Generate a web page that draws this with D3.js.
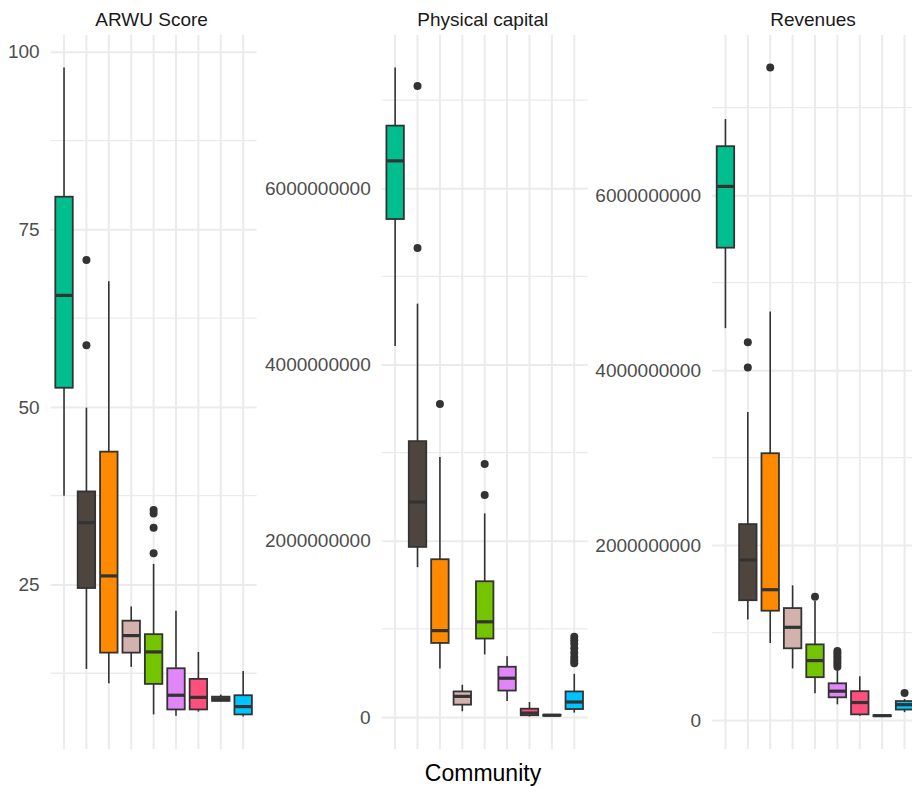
<!DOCTYPE html>
<html>
<head>
<meta charset="utf-8">
<script src="https://cdn.jsdelivr.net/npm/d3@7"></script>
<style>
  html, body { margin: 0; padding: 0; background: #ffffff; }
  svg { display: block; font-family: "Liberation Sans", Arial, sans-serif; }
</style>
</head>
<body>
<svg id="chart" width="912" height="787"></svg>
<script>
// ---------- data ----------
const communities = ["1", "2", "3", "4", "5", "6", "7", "8", "9"];
const fillColors = ["#00BE8E", "#4E463E", "#FF8A00", "#D3B1AD", "#75C400", "#E086F8", "#FF4F7D", "#A8A8A8", "#00C4FF"];
const panelTitles = ["ARWU Score", "Physical capital", "Revenues"];

// [lower whisker, Q1, median, Q3, upper whisker]
const arwuBox = [
  [37.5, 52.7, 65.7, 79.6, 97.8],
  [13.1, 24.5, 33.7, 38.1, 49.9],
  [11.1, 15.4, 26.2, 43.7, 67.7],
  [13.4, 15.4, 17.8, 19.9, 21.9],
  [6.7, 11.0, 15.5, 18.0, 27.9],
  [6.5, 7.4, 9.4, 13.2, 21.3],
  [7.1, 7.4, 9.1, 11.7, 15.5],
  [8.5, 8.6, 8.9, 9.2, 9.5],
  [6.4, 6.7, 7.8, 9.4, 12.8]
];
const arwuOut = [[], [70.7, 58.7], [], [], [35.5, 35.0, 33.0, 29.4], [], [], [], []];

const capitalBox = [
  [4.21e9, 5.65e9, 6.31e9, 6.71e9, 7.37e9],
  [1.70e9, 1.93e9, 2.44e9, 3.13e9, 4.69e9],
  [0.55e9, 0.84e9, 0.98e9, 1.79e9, 2.95e9],
  [0.065e9, 0.14e9, 0.234e9, 0.29e9, 0.366e9],
  [0.71e9, 0.89e9, 1.08e9, 1.54e9, 2.31e9],
  [0.18e9, 0.30e9, 0.44e9, 0.57e9, 0.69e9],
  [0.005e9, 0.02e9, 0.045e9, 0.094e9, 0.17e9],
  [0.01e9, 0.015e9, 0.02e9, 0.025e9, 0.03e9],
  [0.05e9, 0.09e9, 0.17e9, 0.29e9, 0.49e9]
];
const capitalOut = [[], [7.16e9, 5.32e9], [3.55e9], [], [2.87e9, 2.52e9], [], [], [],
  [0.91e9, 0.87e9, 0.83e9, 0.78e9, 0.73e9, 0.68e9, 0.64e9, 0.61e9]];

const revenueBox = [
  [4.48e9, 5.40e9, 6.10e9, 6.56e9, 6.87e9],
  [1.15e9, 1.37e9, 1.83e9, 2.24e9, 3.52e9],
  [0.88e9, 1.25e9, 1.49e9, 3.05e9, 4.67e9],
  [0.59e9, 0.82e9, 1.06e9, 1.28e9, 1.54e9],
  [0.305e9, 0.49e9, 0.68e9, 0.865e9, 1.36e9],
  [0.18e9, 0.26e9, 0.33e9, 0.42e9, 0.59e9],
  [0.05e9, 0.065e9, 0.20e9, 0.33e9, 0.50e9],
  [0.04e9, 0.045e9, 0.05e9, 0.055e9, 0.06e9],
  [0.09e9, 0.12e9, 0.176e9, 0.217e9, 0.24e9]
];
const revenueOut = [[], [4.32e9, 4.03e9], [7.46e9], [], [1.41e9], [0.79e9, 0.76e9, 0.73e9, 0.70e9, 0.67e9, 0.64e9, 0.61e9], [], [], [0.31e9]];

const yTicks = [[25, 50, 75, 100], [0, 2e9, 4e9, 6e9], [0, 2e9, 4e9, 6e9]];
const yMinor = [[12.5, 37.5, 62.5, 87.5], [1e9, 3e9, 5e9, 7e9], [1e9, 3e9, 5e9, 7e9]];

const panelBoxes = [arwuBox, capitalBox, revenueBox];
const panelOuts = [arwuOut, capitalOut, revenueOut];

// ---------- layout ----------
const svg = d3.select("#chart");
const panelLeft = [50.6, 381.7, 712];
const panelW = 206;
const plotTop = 35, plotBottom = 749;
const gridCol = "#EBEBEB";
const lineCol = "#333333";

panelTitles.forEach((title, p) => {
  const boxes = panelBoxes[p];
  const outs = panelOuts[p];
  const allVals = boxes.flat().concat(outs.flat());
  const mn = d3.min(allVals), mx = d3.max(allVals);
  const pad = 0.05 * (mx - mn);

  const x = d3.scalePoint().domain(communities)
    .range([panelLeft[p], panelLeft[p] + panelW]).padding(0.6);
  const step = x.step();
  const y = d3.scaleLinear().domain([mn - pad, mx + pad]).range([plotBottom, plotTop]);

  const g = svg.append("g");

  // minor horizontal grid
  g.selectAll(".minor").data(yMinor[p].filter(v => v >= y.domain()[0] && v <= y.domain()[1]))
    .enter().append("line")
    .attr("x1", panelLeft[p]).attr("x2", panelLeft[p] + panelW)
    .attr("y1", d => y(d)).attr("y2", d => y(d))
    .attr("stroke", gridCol).attr("stroke-width", 1.3);

  // major horizontal grid via axis
  const axis = d3.axisLeft(y).tickValues(yTicks[p]).tickFormat(d3.format("d"))
    .tickSize(-panelW).tickPadding(11);
  const ag = g.append("g").attr("transform", `translate(${panelLeft[p]},0)`).call(axis);
  ag.select(".domain").remove();
  ag.selectAll(".tick line").attr("stroke", gridCol).attr("stroke-width", 2);
  ag.selectAll(".tick text").attr("fill", "#4D4D4D").style("font-size", "19px")
    .style("font-family", "'Liberation Sans', Arial, sans-serif");

  // vertical grid
  g.selectAll(".vgrid").data(communities).enter().append("line")
    .attr("x1", d => x(d)).attr("x2", d => x(d))
    .attr("y1", plotTop).attr("y2", plotBottom)
    .attr("stroke", gridCol).attr("stroke-width", 2);

  // title
  svg.append("text")
    .attr("x", panelLeft[p] + panelW / 2 - 2).attr("y", 26)
    .attr("text-anchor", "middle").attr("fill", "#1A1A1A")
    .style("font-size", "19px").text(title);

  const bw = step * 0.78;
  const bx = g.selectAll(".box").data(boxes).enter().append("g");
  // whiskers
  bx.append("line")
    .attr("x1", (d, i) => x(communities[i])).attr("x2", (d, i) => x(communities[i]))
    .attr("y1", d => y(d[4])).attr("y2", d => y(d[3]))
    .attr("stroke", lineCol).attr("stroke-width", 1.6);
  bx.append("line")
    .attr("x1", (d, i) => x(communities[i])).attr("x2", (d, i) => x(communities[i]))
    .attr("y1", d => y(d[1])).attr("y2", d => y(d[0]))
    .attr("stroke", lineCol).attr("stroke-width", 1.6);
  // box
  bx.append("rect")
    .attr("x", (d, i) => x(communities[i]) - bw / 2).attr("width", bw)
    .attr("y", d => y(d[3])).attr("height", d => Math.max(0.5, y(d[1]) - y(d[3])))
    .attr("fill", (d, i) => fillColors[i])
    .attr("stroke", lineCol).attr("stroke-width", 1.8);
  // median
  bx.append("line")
    .attr("x1", (d, i) => x(communities[i]) - bw / 2).attr("x2", (d, i) => x(communities[i]) + bw / 2)
    .attr("y1", d => y(d[2])).attr("y2", d => y(d[2]))
    .attr("stroke", lineCol).attr("stroke-width", 3.2);

  // outliers
  const pts = [];
  outs.forEach((arr, i) => arr.forEach(v => pts.push({ c: communities[i], v })));
  g.selectAll(".out").data(pts).enter().append("circle")
    .attr("cx", d => x(d.c)).attr("cy", d => y(d.v)).attr("r", 4)
    .attr("fill", lineCol);
});

// x axis title
svg.append("text")
  .attr("x", 483).attr("y", 781)
  .attr("text-anchor", "middle").attr("fill", "#000000")
  .style("font-size", "23px").text("Community");
</script>
</body>
</html>
